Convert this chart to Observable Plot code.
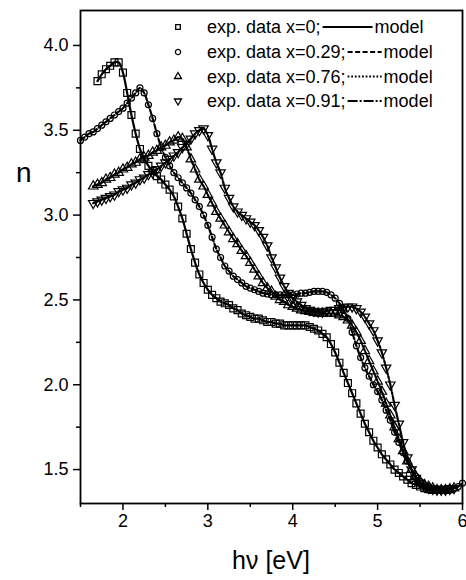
<!DOCTYPE html>
<html>
<head>
<meta charset="utf-8">
<script src="https://cdn.jsdelivr.net/npm/d3@7"></script>
<script src="https://cdn.jsdelivr.net/npm/@observablehq/plot@0.6"></script>
<style>
  body { margin: 0; background: #fff; }
  #wrap { position: relative; width: 466px; height: 580px; font-family: "Liberation Sans", Arial, sans-serif; }
  .lab { position: absolute; color: #000; font-family: "Liberation Sans", Arial, sans-serif; }
</style>
</head>
<body>
<div id="wrap"></div>
<script>
// Photon energy grid (eV)
const energy = [
  1.50,1.55,1.60,1.65,1.70,1.75,1.80,1.85,1.90,1.95,
  2.00,2.05,2.10,2.15,2.20,2.25,2.30,2.35,2.40,2.45,
  2.50,2.55,2.60,2.65,2.70,2.75,2.80,2.85,2.90,2.95,
  3.00,3.05,3.10,3.15,3.20,3.25,3.30,3.35,3.40,3.45,
  3.50,3.55,3.60,3.65,3.70,3.75,3.80,3.85,3.90,3.95,
  4.00,4.05,4.10,4.15,4.20,4.25,4.30,4.35,4.40,4.45,
  4.50,4.55,4.60,4.65,4.70,4.75,4.80,4.85,4.90,4.95,
  5.00,5.05,5.10,5.15,5.20,5.25,5.30,5.35,5.40,5.45,
  5.50,5.55,5.60,5.65,5.70,5.75,5.80,5.85,5.90,5.95,
  6.00
];

// refractive index n, x = 0
const n_x0 = [
  null,null,null,null,3.79,3.83,3.86,3.88,3.90,3.90,
  3.84,3.72,3.59,3.48,3.39,3.33,3.29,3.26,3.23,3.21,
  3.18,3.15,3.11,3.05,2.98,2.89,2.80,2.72,2.65,2.60,
  2.56,2.53,2.51,2.49,2.48,2.47,2.45,2.44,2.42,2.41,
  2.40,2.39,2.39,2.38,2.37,2.37,2.36,2.36,2.35,2.35,
  2.35,2.35,2.35,2.35,2.34,2.33,2.32,2.30,2.28,2.24,
  2.19,2.13,2.07,2.01,1.95,1.89,1.83,1.77,1.72,1.67,
  1.63,1.59,1.56,1.53,1.50,1.48,1.46,1.44,1.42,1.41,
  1.40,1.39,1.385,1.38,1.38,1.38,1.38,1.385,null,null,
  null
];
// x = 0.29
const n_x029 = [
  3.44,3.46,3.48,3.49,3.51,3.53,3.55,3.57,3.59,3.61,
  3.63,3.66,3.69,3.72,3.75,3.72,3.65,3.57,3.48,3.40,
  3.34,3.29,3.25,3.22,3.19,3.16,3.13,3.09,3.05,3.00,
  2.94,2.87,2.80,2.75,2.70,2.67,2.64,2.62,2.60,2.58,
  2.57,2.56,2.55,2.54,2.535,2.53,2.53,2.53,2.53,2.53,
  2.53,2.535,2.54,2.54,2.545,2.55,2.55,2.55,2.545,2.53,
  2.51,2.48,2.44,2.39,2.31,2.23,2.16,2.10,2.05,2.00,
  1.96,1.91,1.85,1.79,1.72,1.66,1.60,1.55,1.50,1.46,
  1.43,1.41,1.40,1.39,1.38,1.38,1.38,1.385,1.39,1.40,
  1.42
];
// x = 0.76
const n_x076 = [
  null,null,null,3.17,3.18,3.19,3.21,3.22,3.24,3.25,
  3.27,3.28,3.30,3.31,3.33,3.34,3.35,3.37,3.38,3.40,
  3.41,3.43,3.44,3.46,3.45,3.40,3.33,3.27,3.21,3.17,
  3.12,3.07,3.02,2.98,2.94,2.90,2.86,2.83,2.79,2.76,
  2.72,2.68,2.64,2.60,2.57,2.55,2.52,2.50,2.49,2.47,
  2.46,2.45,2.44,2.435,2.43,2.425,2.42,2.42,2.42,2.42,
  2.42,2.41,2.40,2.38,2.35,2.31,2.26,2.20,2.14,2.08,
  2.02,1.96,1.89,1.82,1.75,1.68,1.61,1.55,1.50,1.46,
  1.43,1.41,1.40,1.39,1.38,1.38,1.38,1.385,1.39,null,
  null
];
// x = 0.91
const n_x091 = [
  null,null,null,3.07,3.08,3.09,3.10,3.11,3.12,3.14,
  3.15,3.16,3.18,3.19,3.21,3.22,3.24,3.25,3.27,3.29,
  3.31,3.33,3.35,3.37,3.40,3.42,3.45,3.48,3.50,3.51,
  3.47,3.39,3.31,3.25,3.16,3.10,3.05,3.02,3.00,2.98,
  2.96,2.94,2.91,2.87,2.82,2.75,2.69,2.63,2.58,2.54,
  2.51,2.49,2.47,2.45,2.44,2.435,2.43,2.43,2.435,2.44,
  2.44,2.45,2.455,2.46,2.46,2.45,2.43,2.40,2.36,2.32,
  2.26,2.19,2.10,2.00,1.88,1.77,1.66,1.57,1.50,1.45,
  1.42,1.40,1.39,1.385,1.38,1.38,1.38,1.385,1.39,null,
  null
];

const seriesLabels = ["exp. data x=0;", "exp. data x=0.29;", "exp. data x=0.76;", "exp. data x=0.91;"];
const modelLabel = "model";
const xMajor = [2, 3, 4, 5, 6];
const xMinor = [1.5, 2.5, 3.5, 4.5, 5.5];
const yMajor = [1.5, 2.0, 2.5, 3.0, 3.5, 4.0];
const yMinor = [1.75, 2.25, 2.75, 3.25, 3.75];

const styles = [
  {symbol: "square", rotate: 0, r: 3.9, dash: null},
  {symbol: "circle", rotate: 0, r: 3.0, dash: "5,2.5"},
  {symbol: "triangle", rotate: 0, r: 3.5, dash: "1.8,1.8"},
  {symbol: "triangle", rotate: 180, r: 3.5, dash: "10,2,2,2"}
];
const values = [n_x0, n_x029, n_x076, n_x091];
const rowsOf = arr => energy.map((e, i) => ({e, n: arr[i]})).filter(d => d.n != null);

const font = "Liberation Sans, Arial, sans-serif";

const marks = [];
values.forEach((arr, k) => {
  const s = styles[k];
  marks.push(Plot.dot(rowsOf(arr), {
    x: "e", y: "n", symbol: s.symbol, rotate: s.rotate, r: s.r,
    fill: "none", stroke: "black", strokeWidth: 1.2
  }));
});
values.forEach((arr, k) => {
  const s = styles[k];
  marks.push(Plot.line(rowsOf(arr), {
    x: "e", y: "n", stroke: "black", strokeWidth: 2.2,
    strokeDasharray: s.dash, curve: "catmull-rom"
  }));
});

const chart = Plot.plot({
  width: 466,
  height: 580,
  marginLeft: 80,
  marginRight: 4,
  marginTop: 10,
  marginBottom: 77,
  style: {fontFamily: font, fontSize: "18px", color: "black", background: "white"},
  x: {domain: [1.5, 6]},
  y: {domain: [1.3, 4.206]},
  marks: [
    ...marks,
    Plot.axisX(xMajor, {tickSize: 7, tickPadding: 4, strokeWidth: 1.5, tickFormat: d => String(d), label: null, fontSize: 18}),
    Plot.axisX(xMinor, {tickSize: 4, strokeWidth: 1.5, tickFormat: () => "", label: null}),
    Plot.axisY(yMajor, {tickSize: 7, tickPadding: 5, strokeWidth: 1.5, tickFormat: d3.format(".1f"), label: null, fontSize: 18}),
    Plot.axisY(yMinor, {tickSize: 4, strokeWidth: 1.5, tickFormat: () => "", label: null}),
    Plot.frame({stroke: "black", strokeWidth: 1.8})
  ]
});

const wrap = document.getElementById("wrap");
wrap.appendChild(chart);

// axis titles
const yl = document.createElement("div");
yl.className = "lab";
yl.textContent = "n";
yl.style.cssText += "left:16px;top:157px;font-size:28px;";
wrap.appendChild(yl);

const xl = document.createElement("div");
xl.className = "lab";
xl.textContent = "hν [eV]";
xl.style.cssText += "left:80px;width:382px;text-align:center;top:546px;font-size:25px;";
wrap.appendChild(xl);

// legend
const leg = d3.select(wrap).append("svg")
  .attr("width", 466).attr("height", 120)
  .style("position", "absolute").style("left", "0px").style("top", "0px")
  .style("font-family", font).style("font-size", "18px");
const rowY = [27, 52, 76.5, 101];
styles.forEach((s, k) => {
  const g = leg.append("g");
  const sym = {square: d3.symbolSquare, circle: d3.symbolCircle, triangle: d3.symbolTriangle}[s.symbol];
  g.append("path")
    .attr("d", d3.symbol(sym, 2.6 * 2.6 * Math.PI)())
    .attr("transform", `translate(178,${rowY[k]}) rotate(${s.rotate})`)
    .attr("fill", "none").attr("stroke", "black").attr("stroke-width", 1.3);
  const t = g.append("text").attr("x", 207).attr("y", rowY[k] + 6).text(seriesLabels[k]);
  const w = t.node().getComputedTextLength();
  const x0 = 207 + w + 2;
  const lineLen = k === 0 ? 50 : 34;
  g.append("line").attr("x1", x0).attr("x2", x0 + lineLen)
    .attr("y1", rowY[k]).attr("y2", rowY[k])
    .attr("stroke", "black").attr("stroke-width", 1.8)
    .attr("stroke-dasharray", s.dash);
  g.append("text").attr("x", x0 + lineLen + 2).attr("y", rowY[k] + 6).text(modelLabel);
});
</script>
</body>
</html>
